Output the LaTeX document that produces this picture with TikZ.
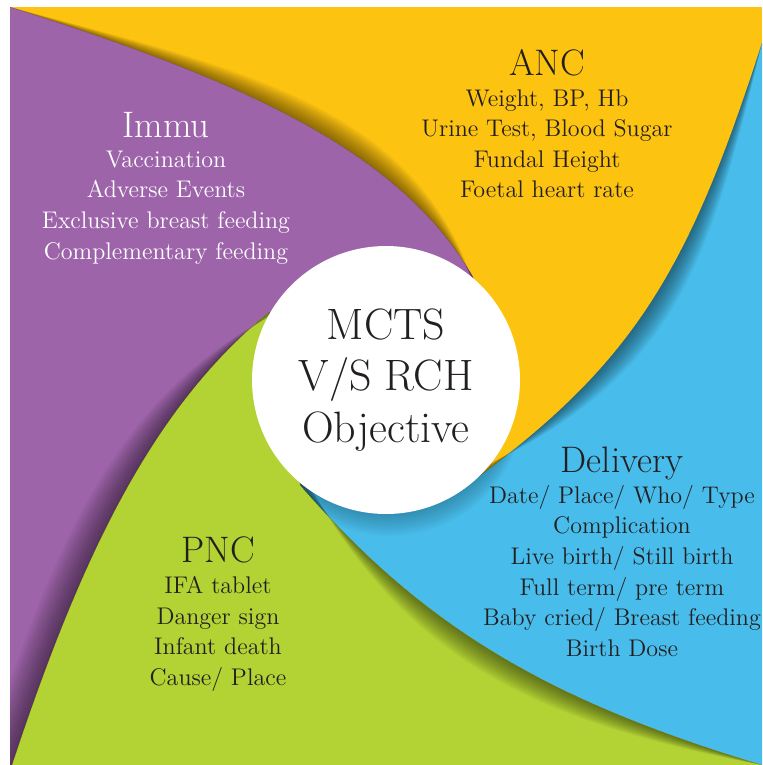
\documentclass[tikz,border=0pt]{standalone}
\usepackage{tikz}
\usetikzlibrary{calc}
\definecolor{immupurple}{HTML}{9E64AA}
\definecolor{ancyellow}{HTML}{FDC311}
\definecolor{delblue}{HTML}{48BDEB}
\definecolor{pncgreen}{HTML}{B3D234}
\definecolor{inkdark}{HTML}{231F20}

\begin{document}
\begin{tikzpicture}[
    x=0.02cm, y=-0.02cm,
    blocktitle/.style={font=\fontsize{21}{25}\selectfont, inner sep=0pt,
                       anchor=base, text=inkdark},
    blockitems/.style={font=\fontsize{13.7}{17.4}\selectfont, align=center,
                       inner sep=0pt, anchor=north, text=inkdark},
    hub/.style={circle, fill=white, minimum size=5.36cm, inner sep=0pt,
                align=center, font=\fontsize{25}{29.5}\selectfont, text=inkdark},
    castshadow/.style={fill=black, fill opacity=0.045},
]
\useasboundingbox (0,0) rectangle (762,765);

% ============== boundary curves ==============
\coordinate (O) at (386,380);
% purple / yellow
\coordinate (a0) at (10,7);
\coordinate (a1) at (240,80);
\coordinate (a2) at (400,150);
\coordinate (a3) at (473,277);
% yellow / blue
\coordinate (b0) at (762,43);
\coordinate (b1) at (688,273);
\coordinate (b2) at (633,366);
\coordinate (b3) at (463,488);
% blue / green
\coordinate (c0) at (762,765);
\coordinate (c1) at (542,699);
\coordinate (c2) at (420,623);
\coordinate (c3) at (300,485);
% green / purple
\coordinate (d0) at (12,765);
\coordinate (d1) at (80,560);
\coordinate (d2) at (150,410);
\coordinate (d3) at (268,313);

% ============== regions ==============
\fill[ancyellow] (10,7) rectangle (762,765);
\fill[immupurple] (a0) .. controls (a1) and (a2) .. (a3) -- (O)
    -- (d3) .. controls (d2) and (d1) .. (d0) -- (10,765) -- cycle;
\fill[delblue] (b0) .. controls (b1) and (b2) .. (b3) -- (O)
    -- (c3) .. controls (c2) and (c1) .. (c0) -- cycle;
\fill[pncgreen] (c0) .. controls (c1) and (c2) .. (c3) -- (O)
    -- (d3) .. controls (d2) and (d1) .. (d0) -- cycle;

% ============== shadows along the edges ==============
\begin{scope}
\clip (10,7) rectangle (762,765);
\foreach \k in {1,...,12} {
  \fill[castshadow] (a0) .. controls (a1) and (a2) .. (a3)
      -- ($(a3)+\k*(0.5,2)$) .. controls ($(a2)+\k*(2.1,-3.6)$)
      and ($(a1)+\k*(0.5,-0.8)$) .. (a0) -- cycle;
  \fill[castshadow] (b0) .. controls (b1) and (b2) .. (b3)
      -- ($(b3)+\k*(-2.1,-0.1)$) .. controls ($(b2)+\k*(3.1,2.1)$)
      and ($(b1)+\k*(1.4,0.9)$) .. (b0) -- cycle;
  \fill[castshadow] (c0) .. controls (c1) and (c2) .. (c3)
      -- ($(c3)+\k*(-0.2,-1.8)$) .. controls ($(c2)+\k*(-1.8,2.8)$)
      and ($(c1)+\k*(-1.1,1.8)$) .. (c0) -- cycle;
  \fill[castshadow] (d0) .. controls (d1) and (d2) .. (d3)
      -- ($(d3)+\k*(1.7,-0.5)$) .. controls ($(d2)+\k*(-2.9,-1.7)$)
      and ($(d1)+\k*(-2.2,-1.3)$) .. ($(d0)+\k*(-2.5,0)$) -- cycle;
}
\end{scope}

% shadow of the hub on the blue part
\begin{scope}
\clip (b0) .. controls (b1) and (b2) .. (b3) -- (O)
    -- (c3) .. controls (c2) and (c1) .. (c0) -- cycle;
\foreach \k in {1,...,10}
  \fill[black, fill opacity=0.025] ($(O)+\k*(0.4,2.2)$) circle [radius=2.68cm];
\end{scope}

% ============== centre ==============
\node[hub] (hub) at (O) {MCTS\\V/S RCH\\Objective};

% ============== Immu ==============
\node[blocktitle, text=white] (immu) at (166,137) {Immu};
\node[blockitems, text=white] (immulist) at (166,150.5)
    {Vaccination\\Adverse Events\\Exclusive breast feeding\\Complementary feeding};

% ============== ANC ==============
\node[blocktitle] (anc) at (547,75) {ANC};
\node[blockitems] (anclist) at (547,89.2)
    {Weight, BP, Hb\\Urine Test, Blood Sugar\\Fundal Height\\Foetal heart rate};

% ============== Delivery ==============
\node[blocktitle] (delivery) at (622,472) {Delivery};
\node[blockitems] (deliverylist) at (622,485)
    {Date/ Place/ Who/ Type\\Complication\\Live birth/ Still birth\\Full term/ pre term\\Baby cried/ Breast feeding\\Birth Dose};

% ============== PNC ==============
\node[blocktitle] (pnc) at (218,562) {PNC};
\node[blockitems] (pnclist) at (218,576.2)
    {IFA tablet\\Danger sign\\Infant death\\Cause/ Place};

\end{tikzpicture}
\end{document}
